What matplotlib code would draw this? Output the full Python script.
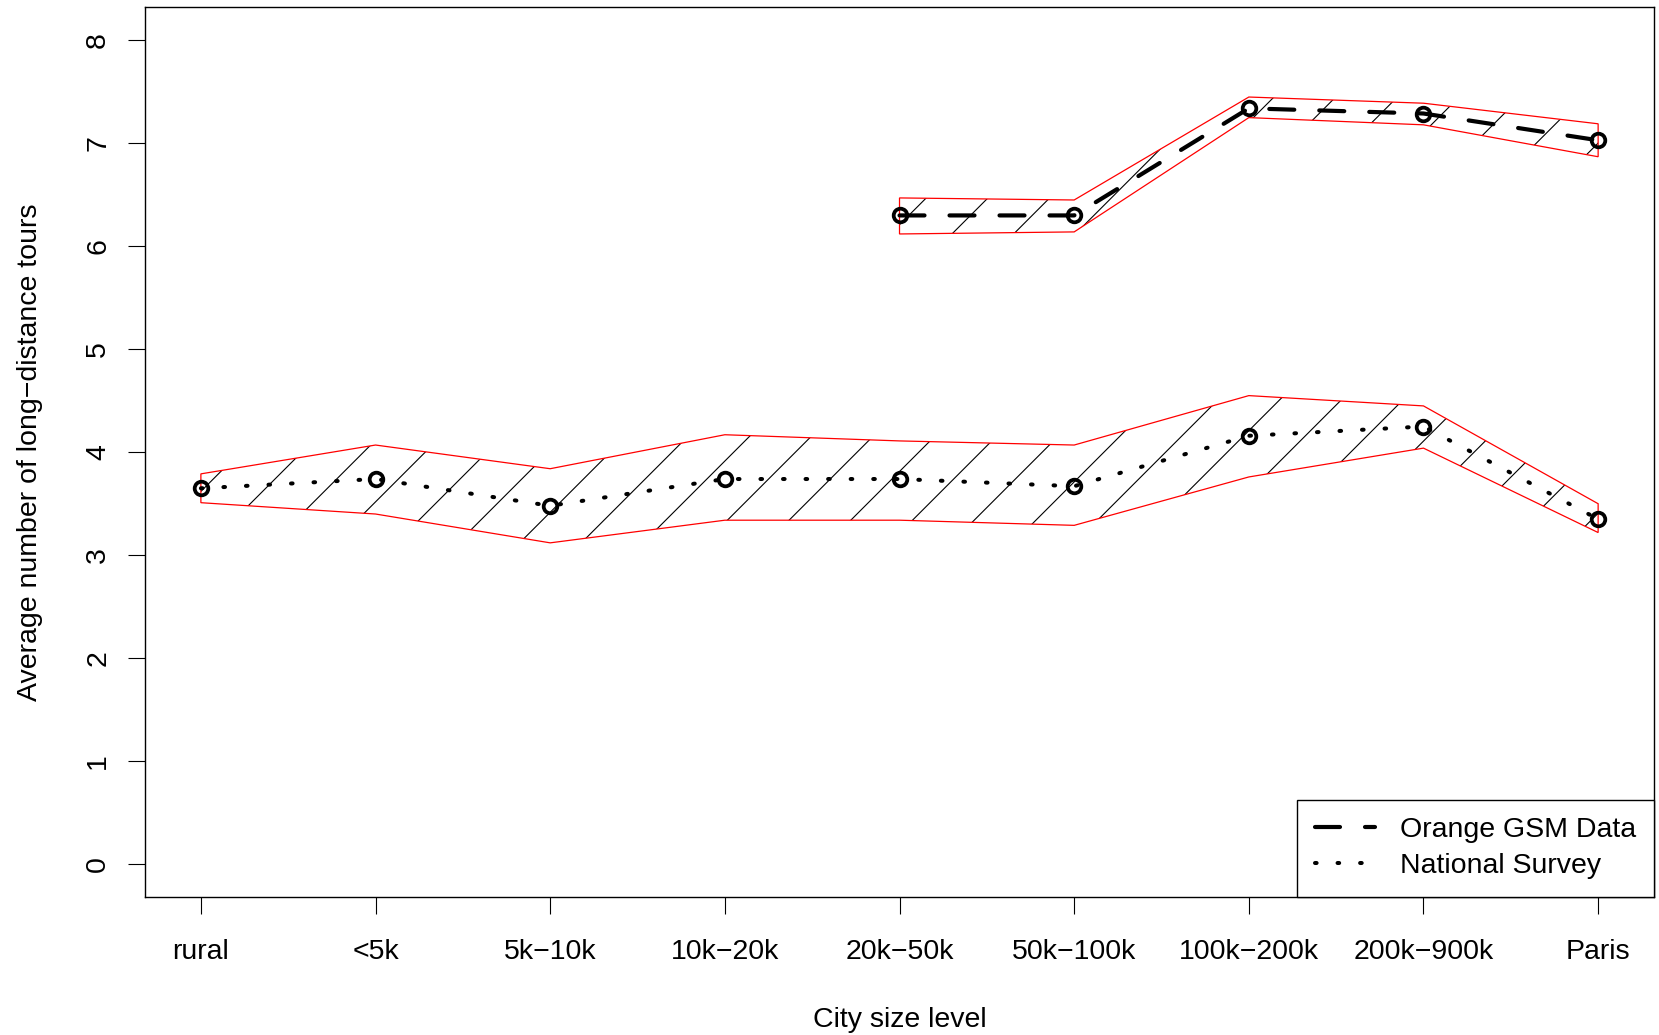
import numpy as np
import matplotlib
matplotlib.use("Agg")
import matplotlib.pyplot as plt
from matplotlib.patches import Polygon
from matplotlib.collections import LineCollection
from matplotlib.lines import Line2D
from matplotlib.transforms import IdentityTransform

plt.rcParams['font.family'] = ['Liberation Sans', 'DejaVu Sans']

# Data
city_levels = ['rural', '<5k', '5k\u221210k', '10k\u221220k', '20k\u221250k',
               '50k\u2212100k', '100k\u2212200k', '200k\u2212900k', 'Paris']
x_all = np.arange(1, 10)

# Orange GSM data (only the 5 largest city levels)
gsm_x = np.arange(5, 10)
gsm_mean = [6.30, 6.30, 7.34, 7.29, 7.03]
gsm_upper = [6.47, 6.45, 7.45, 7.39, 7.19]
gsm_lower = [6.12, 6.14, 7.25, 7.18, 6.87]

# National survey
survey_mean = [3.65, 3.74, 3.48, 3.74, 3.74, 3.67, 4.16, 4.25, 3.35]
survey_upper = [3.79, 4.07, 3.84, 4.17, 4.11, 4.07, 4.55, 4.45, 3.50]
survey_lower = [3.51, 3.40, 3.12, 3.34, 3.34, 3.29, 3.76, 4.04, 3.22]

FS = 20.5
DASHED = dict(color='black', lw=3.0, dashes=(6, 6), dash_capstyle='round')
DOTTED = dict(color='black', lw=2.9, dashes=(0.4, 5.2), dash_capstyle='round')

fig = plt.figure(figsize=(16.59, 10.35), dpi=100)
ax = fig.add_axes([0.0874, 0.1333, 0.9096, 0.8595])
ax.set_xlim(0.68, 9.32)
ax.set_ylim(-0.32, 8.32)


def hatch_band(x, lo, hi, angle=45, spacing=61.7, offset=27.5):
    x = np.asarray(x, float)
    xy = np.column_stack([np.r_[x, x[::-1]], np.r_[hi, np.asarray(lo)[::-1]]])
    poly = Polygon(xy, closed=True, fill=False, edgecolor='red', lw=0.9, zorder=2)
    ax.add_patch(poly)
    # hatch lines drawn in pixel space, clipped to the band outline
    pts = ax.transData.transform(xy)
    y0, y1 = pts[:, 1].min() - 5, pts[:, 1].max() + 5
    k = 1 / np.tan(np.radians(angle))
    cmin = pts[:, 0].min() - k * y1 - spacing
    cmax = pts[:, 0].max() - k * y0 + spacing
    start = np.floor(cmin / spacing) * spacing + offset
    segs = [[(c + k * y0, y0), (c + k * y1, y1)] for c in np.arange(start, cmax, spacing)]
    lc = LineCollection(segs, colors='black', linewidths=0.8,
                        transform=IdentityTransform(), zorder=1)
    ax.add_collection(lc, autolim=False)
    lc.set_clip_path(poly)


hatch_band(gsm_x, gsm_lower, gsm_upper)
hatch_band(x_all, survey_lower, survey_upper)

ax.plot(gsm_x, gsm_mean, **DASHED, zorder=3)
ax.plot(x_all, survey_mean, **DOTTED, zorder=3)
ax.plot(gsm_x, gsm_mean, ls='none', marker='o', ms=9.8, mfc='none', mec='black', mew=2.7, zorder=4)
ax.plot(x_all, survey_mean, ls='none', marker='o', ms=9.8, mfc='none', mec='black', mew=2.7, zorder=4)

ax.set_xticks(x_all)
ax.set_xticklabels(city_levels)
ax.set_yticks(range(0, 9))
ax.tick_params(axis='both', labelsize=FS, length=12.3, width=0.8, direction='out')
ax.tick_params(axis='x', pad=18)
ax.tick_params(axis='y', pad=12, labelrotation=90)
for lab in ax.get_yticklabels():
    lab.set_va('center')
for s in ax.spines.values():
    s.set_linewidth(1.0)

ax.set_xlabel('City size level', fontsize=FS, va='center')
ax.xaxis.set_label_coords(0.5, -0.138)
ax.set_ylabel('Average number of long\u2212distance tours', fontsize=FS, va='center')
ax.yaxis.set_label_coords(-0.0765, 0.5)

handles = [Line2D([], [], **DASHED), Line2D([], [], **DOTTED)]
leg = ax.legend(handles, ['Orange GSM Data', 'National Survey'], loc='lower right',
                borderaxespad=0, fancybox=False, edgecolor='black', framealpha=1,
                fontsize=FS, handlelength=2.1, handletextpad=0.9, borderpad=0.62,
                labelspacing=0.35)
leg.get_frame().set_linewidth(1.0)

fig.savefig('out.png', dpi=100)
